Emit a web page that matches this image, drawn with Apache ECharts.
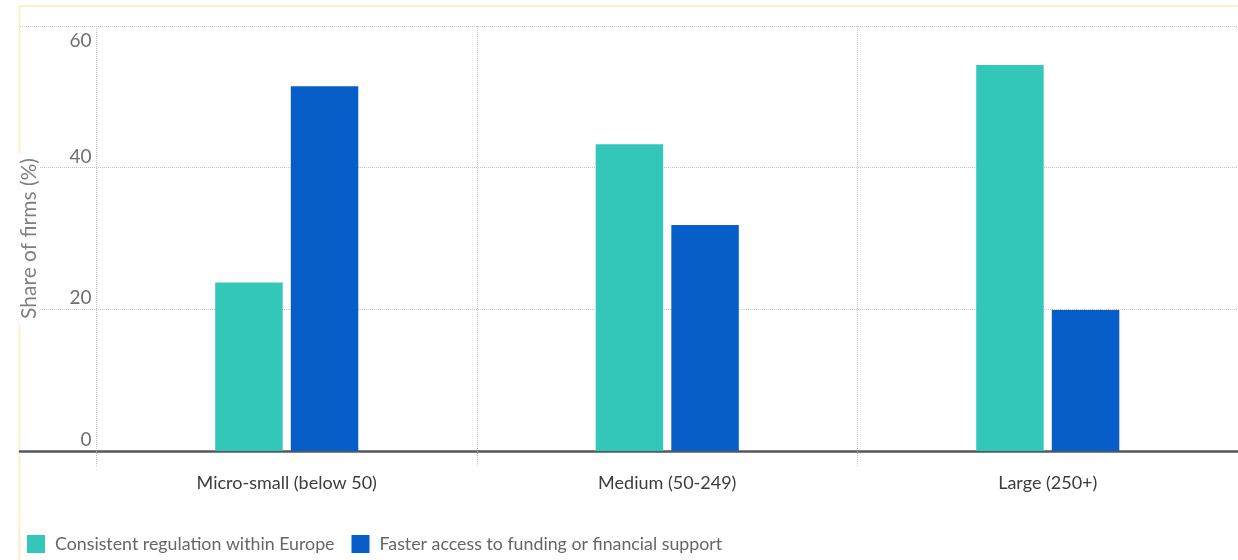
<!DOCTYPE html>
<html>
<head>
<meta charset="utf-8">
<script src="https://cdn.jsdelivr.net/npm/echarts@6/dist/echarts.min.js"></script>
<style>
  html, body { margin: 0; padding: 0; background: #fff; }
  #chart { width: 1238px; height: 560px; }
</style>
</head>
<body>
<div id="chart"></div>
<script>
// Firm size groups and the share of firms naming each priority (%)
const categories = ['Micro-small (below 50)', 'Medium (50-249)', 'Large (250+)'];
const seriesNames = ['Consistent regulation within Europe', 'Faster access to funding or financial support'];
const regulation = [23.8, 43.3, 54.5];
const funding = [51.5, 31.9, 19.9];
const yMin = 0;
const yMax = 60;
const yStep = 20;
const yTitle = 'Share of firms (%)';

const FONT = 'Lato, "Noto Sans", sans-serif';
const GRID_LINE = { color: '#c4c4c4', type: [1, 1], width: 1 };

const chart = echarts.init(document.getElementById('chart'), null, { renderer: 'canvas' });

chart.setOption({
  animation: false,
  textStyle: { fontFamily: FONT },
  color: ['#33C7B9', '#085EC8'],
  grid: [
    // wide grid: horizontal guides and the zero line run out to the frame
    { left: 20, width: 1225, top: 26, bottom: 109, containLabel: false },
    // plot grid holding the bars and the category axis
    { left: 96.5, width: 1148, top: 26, bottom: 109, containLabel: false }
  ],
  xAxis: [
    {
      gridIndex: 0, type: 'value', min: 0, max: 1,
      axisLabel: { show: false }, axisTick: { show: false }, splitLine: { show: false },
      axisLine: { show: true, lineStyle: { color: '#55575b', width: 2.5 } }
    },
    {
      gridIndex: 1, type: 'category', data: categories, boundaryGap: true,
      axisLine: { show: false },
      axisTick: { show: true, length: 15, lineStyle: GRID_LINE },
      splitLine: { show: true, lineStyle: GRID_LINE },
      axisLabel: { margin: 23, color: '#3c3c3c', fontSize: 18, fontFamily: FONT }
    }
  ],
  yAxis: [
    {
      gridIndex: 0, type: 'value', min: yMin, max: yMax, interval: yStep,
      axisLabel: { show: false }, axisTick: { show: false }, axisLine: { show: false },
      splitLine: { show: true, lineStyle: GRID_LINE }
    },
    {
      gridIndex: 1, type: 'value', min: yMin, max: yMax, interval: yStep,
      axisLine: { show: false }, axisTick: { show: false }, splitLine: { show: false },
      name: yTitle, nameLocation: 'middle', nameGap: 57, nameRotate: 90,
      nameTextStyle: {
        color: '#808080', fontSize: 21, fontFamily: FONT,
        backgroundColor: '#fff', padding: [0, 5, 0, 5]
      },
      axisLabel: {
        margin: 5, color: '#707070', fontSize: 19, fontFamily: FONT, verticalAlign: 'middle',
        formatter: v => (v === yMax ? '{top|' + v + '}' : '{std|' + v + '}'),
        rich: {
          std: { color: '#707070', fontSize: 19, fontFamily: FONT, padding: [0, 0, 22, 0] },
          top: { color: '#707070', fontSize: 19, fontFamily: FONT, padding: [30, 0, 0, 0] }
        }
      }
    }
  ],
  legend: {
    left: 27, top: 535, padding: 0, itemWidth: 18, itemHeight: 18, itemGap: 17,
    icon: 'rect',
    textStyle: { color: '#666', fontSize: 17.8, fontFamily: FONT, padding: [0, 0, 0, 5] },
    data: seriesNames
  },
  series: [
    {
      name: seriesNames[0], type: 'bar', xAxisIndex: 1, yAxisIndex: 1,
      data: regulation, barWidth: 67.5, barGap: '12%'
    },
    {
      name: seriesNames[1], type: 'bar', xAxisIndex: 1, yAxisIndex: 1,
      data: funding, barWidth: 67.5, barGap: '12%'
    }
  ],
  graphic: [
    // pale frame along the top and left edges
    {
      type: 'polyline', silent: true, z: -1,
      shape: { points: [[19.5, 560], [19.5, 6], [1238, 6]] },
      style: { stroke: '#FFF0C6', lineWidth: 2, fill: null }
    }
  ]
});
</script>
</body>
</html>
